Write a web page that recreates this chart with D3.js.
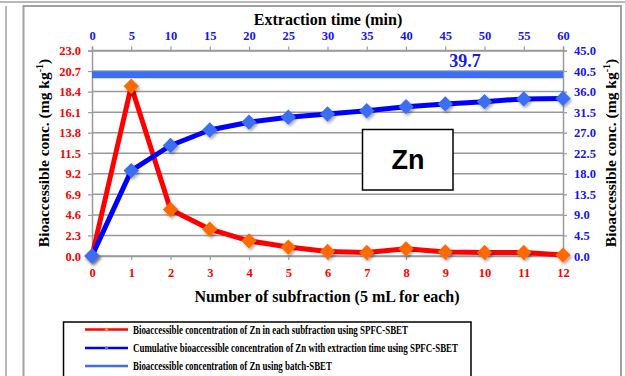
<!DOCTYPE html>
<html>
<head>
<meta charset="utf-8">
<script src="https://cdn.jsdelivr.net/npm/d3@7"></script>
<style>
  html, body { margin: 0; padding: 0; background: #fff; }
  svg { display: block; }
</style>
</head>
<body>
<svg id="chart" width="625" height="376"></svg>
<script>
// Subfraction index (bottom axis) and extraction time (top axis)
const subfractions = [0, 1, 2, 3, 4, 5, 6, 7, 8, 9, 10, 11, 12];
const extractionTimes = [0, 5, 10, 15, 20, 25, 30, 35, 40, 45, 50, 55, 60];

// Zn concentration in each subfraction, SPFC-SBET (left axis, mg/kg)
const perSubfraction = [0.0, 19.0, 5.2, 3.0, 1.7, 1.0, 0.5, 0.4, 0.8, 0.45, 0.4, 0.4, 0.1];
// Cumulative Zn concentration, SPFC-SBET (right axis, mg/kg)
const cumulative = [0.0, 18.7, 24.2, 27.6, 29.3, 30.4, 31.1, 31.8, 32.7, 33.3, 33.8, 34.4, 34.5];
// Batch-SBET reference level (right axis)
const batchLevel = 39.7;

const leftTicks = [0.0, 2.3, 4.6, 6.9, 9.2, 11.5, 13.8, 16.1, 18.4, 20.7, 23.0];
const rightTicks = [0.0, 4.5, 9.0, 13.5, 18.0, 22.5, 27.0, 31.5, 36.0, 40.5, 45.0];

const legendLabels = [
  "Bioaccessible concentration of Zn in each subfraction using SPFC-SBET",
  "Cumulative bioaccessible concentration of Zn with extraction time using SPFC-SBET",
  "Bioaccessible concentration of Zn using batch-SBET"
];

const svg = d3.select("#chart");
const SERIF = '"Liberation Serif", "Times New Roman", Times, "DejaVu Serif", serif';

const plot = { left: 92, right: 563, top: 50.5, bottom: 256 };

const x = d3.scaleLinear().domain([0, 12]).range([plot.left, plot.right]);
const xTop = d3.scaleLinear().domain([0, 60]).range([plot.left, plot.right]);
const yL = d3.scaleLinear().domain([0, 23]).range([plot.bottom, plot.top]);
const yR = d3.scaleLinear().domain([0, 45]).range([plot.bottom, plot.top]);

// Shadow for markers
const defs = svg.append("defs");
const f = defs.append("filter").attr("id", "shadow")
  .attr("x", "-50%").attr("y", "-50%").attr("width", "200%").attr("height", "200%");
f.append("feDropShadow").attr("dx", 1.5).attr("dy", 2).attr("stdDeviation", 1.5)
  .attr("flood-color", "#000").attr("flood-opacity", 0.35);

// Outer panel frames
svg.append("line").attr("x1", 6).attr("x2", 6).attr("y1", 6).attr("y2", 376)
  .attr("stroke", "#a0a0a0").attr("stroke-width", 1.5);
svg.append("line").attr("x1", 0).attr("x2", 625).attr("y1", 2).attr("y2", 2)
  .attr("stroke", "#a0a0a0").attr("stroke-width", 1.5);
svg.append("rect").attr("x", 23.5).attr("y", 6).attr("width", 597.5).attr("height", 380)
  .attr("fill", "none").attr("stroke", "#a0a0a0").attr("stroke-width", 2);

// Horizontal gridlines
svg.append("g").selectAll("line").data(leftTicks).join("line")
  .attr("x1", plot.left).attr("x2", plot.right)
  .attr("y1", d => yL(d)).attr("y2", d => yL(d))
  .attr("stroke", "#9a9a9a").attr("stroke-width", 1.5);

// Axes
function styleAxis(g, color) {
  g.attr("font-family", null).attr("font-size", null);
  g.select(".domain").attr("stroke", "#9a9a9a").attr("stroke-width", 1.5);
  g.selectAll(".tick line").attr("stroke", "#9a9a9a").attr("stroke-width", 1.2);
  g.selectAll(".tick text")
    .attr("fill", color)
    .style("font-family", SERIF)
    .style("font-weight", "bold")
    .style("font-size", "12.5px");
}

svg.append("g").attr("transform", `translate(${plot.left},0)`)
  .call(d3.axisLeft(yL).tickValues(leftTicks).tickFormat(d3.format(".1f")).tickSize(4).tickPadding(7))
  .call(g => styleAxis(g, "#ff0000"));

svg.append("g").attr("transform", `translate(${plot.right},0)`)
  .call(d3.axisRight(yR).tickValues(rightTicks).tickFormat(d3.format(".1f")).tickSize(4).tickPadding(7))
  .call(g => styleAxis(g, "#1515ee"));

svg.append("g").attr("transform", `translate(0,${plot.bottom})`)
  .call(d3.axisBottom(x).tickValues(subfractions).tickFormat(d3.format("d")).tickSize(4).tickPadding(8))
  .call(g => styleAxis(g, "#ff0000"));

svg.append("g").attr("transform", `translate(0,${plot.top})`)
  .call(d3.axisTop(xTop).tickValues(extractionTimes).tickFormat(d3.format("d")).tickSize(4).tickPadding(7))
  .call(g => styleAxis(g, "#1515ee"));

function serifText(sel, size) {
  return sel.style("font-family", SERIF).style("font-weight", "bold").style("font-size", size + "px");
}

// Axis titles
serifText(svg.append("text"), 16).attr("x", 328).attr("y", 25).attr("text-anchor", "middle")
  .text("Extraction time (min)");

serifText(svg.append("text"), 16).attr("x", 327).attr("y", 302).attr("text-anchor", "middle")
  .text("Number of subfraction (5 mL for each)");

function yTitle(tx, ty) {
  const t = serifText(svg.append("text"), 15.5)
    .attr("transform", `translate(${tx},${ty}) rotate(-90)`)
    .attr("text-anchor", "middle");
  t.append("tspan").text("Bioaccessible conc. (mg kg");
  t.append("tspan").attr("dy", -6).style("font-size", "10px").text("-1");
  t.append("tspan").attr("dy", 6).text(")");
}
yTitle(49, 153);
yTitle(616, 153);

// Batch-SBET level
svg.append("line")
  .attr("x1", plot.left).attr("x2", plot.right)
  .attr("y1", yR(batchLevel)).attr("y2", yR(batchLevel))
  .attr("stroke", "#3d6ef5").attr("stroke-width", 7);

serifText(svg.append("text"), 18).attr("x", 465).attr("y", 67).attr("text-anchor", "middle")
  .attr("fill", "#1a1aee").text(batchLevel.toFixed(1));

// Series lines
const redLine = d3.line().x((d, i) => x(subfractions[i])).y(d => yL(d));
const blueLine = d3.line().x((d, i) => x(subfractions[i])).y(d => yR(d));

svg.append("path").datum(perSubfraction).attr("d", redLine)
  .attr("fill", "none").attr("stroke", "#ff0000").attr("stroke-width", 5)
  .attr("stroke-linejoin", "round");
svg.append("path").datum(cumulative).attr("d", blueLine)
  .attr("fill", "none").attr("stroke", "#0000ff").attr("stroke-width", 5)
  .attr("stroke-linejoin", "round");

// Diamond markers
const diamond = d3.symbol().type(d3.symbolDiamond2).size(150);
svg.append("g").selectAll("path").data(perSubfraction).join("path")
  .attr("d", diamond)
  .attr("transform", (d, i) => `translate(${x(subfractions[i])},${yL(d)})`)
  .attr("fill", "#ff6a00").attr("filter", "url(#shadow)");
svg.append("g").selectAll("path").data(cumulative).join("path")
  .attr("d", diamond)
  .attr("transform", (d, i) => `translate(${x(subfractions[i])},${yR(d)})`)
  .attr("fill", "#3a6ef2").attr("filter", "url(#shadow)");

// Element label box
svg.append("rect").attr("x", 362.5).attr("y", 129.5).attr("width", 90.5).attr("height", 60.5)
  .attr("fill", "#fff").attr("stroke", "#000").attr("stroke-width", 1.5);
svg.append("text").attr("x", 408).attr("y", 169).attr("text-anchor", "middle")
  .style("font-family", '"Liberation Sans", Arial, sans-serif').style("font-weight", "bold")
  .style("font-size", "27px").text("Zn");

// Legend
svg.append("rect").attr("x", 63.5).attr("y", 322).attr("width", 407.5).attr("height", 60)
  .attr("fill", "#fff").attr("stroke", "#000").attr("stroke-width", 1.5);
const legendColors = ["#ff0000", "#0000ff", "#3d6ef5"];
const markerColors = ["#ff8c1a", "#4d7cf5", null];
const legendY = [329.5, 348, 366];
const legendWidths = [275, 325, 199];
legendLabels.forEach((label, i) => {
  svg.append("line").attr("x1", 85).attr("x2", 128).attr("y1", legendY[i]).attr("y2", legendY[i])
    .attr("stroke", legendColors[i]).attr("stroke-width", 2.5);
  if (markerColors[i]) {
    svg.append("path").attr("d", d3.symbol().type(d3.symbolDiamond2).size(10))
      .attr("transform", `translate(106.5,${legendY[i]})`).attr("fill", markerColors[i]);
  }
  serifText(svg.append("text"), 11.5).attr("x", 133).attr("y", legendY[i] + 4)
    .attr("textLength", legendWidths[i]).attr("lengthAdjust", "spacingAndGlyphs")
    .attr("fill", "#000").text(label);
});
</script>
</body>
</html>
